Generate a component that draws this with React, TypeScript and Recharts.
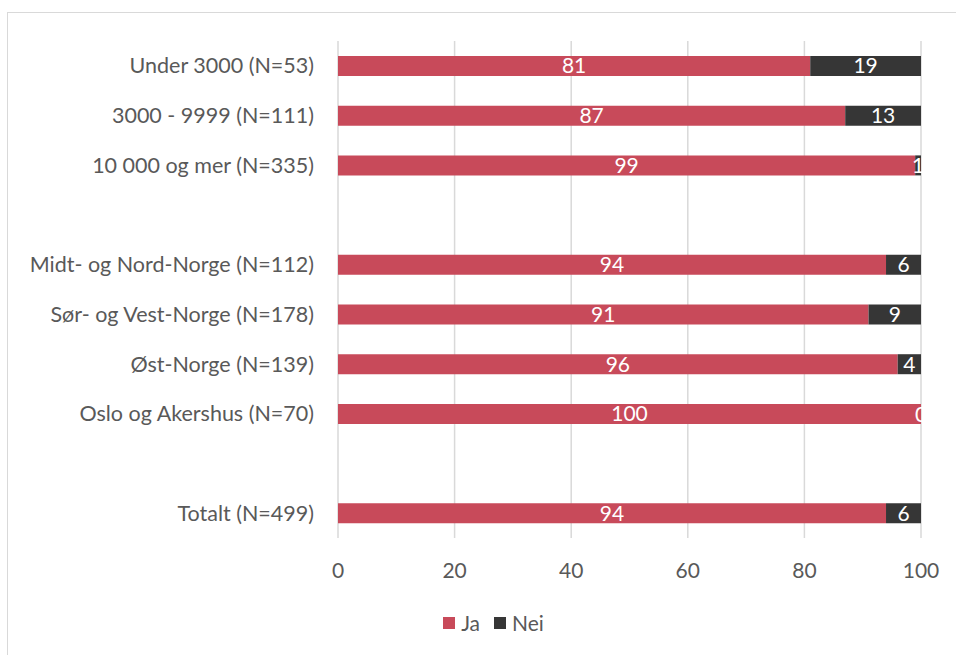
import { BarChart, Bar, XAxis, YAxis, CartesianGrid, Legend, LabelList } from "recharts";

// kategorier (tomme rader gir mellomrom mellom gruppene)
const categories = [
  "Under 3000 (N=53)",
  "3000 - 9999 (N=111)",
  "10 000 og mer (N=335)",
  "",
  "Midt- og Nord-Norge (N=112)",
  "Sør- og Vest-Norge (N=178)",
  "Øst-Norge (N=139)",
  "Oslo og Akershus (N=70)",
  "",
  "Totalt (N=499)",
];
const ja = [81, 87, 99, null, 94, 91, 96, 100, null, 94];
const nei = [19, 13, 1, null, 6, 9, 4, 0, null, 6];
const xTicks = [0, 20, 40, 60, 80, 100];

const RED = "#C84A5A";
const DARK = "#363636";
const TEXT = "#595959";
const FONT = "Lato, 'Open Sans', sans-serif";
const FS = 21;
const YFS = 21.5;

const data = categories.map((name, i) => ({
  id: `r${i}`,
  name,
  ja: ja[i],
  nei: nei[i],
}));

const LegendContent = () => (
  <div style={{ display: "flex", justifyContent: "center", alignItems: "center", fontFamily: FONT, fontSize: FS, color: TEXT, paddingLeft: 66 }}>
    <span style={{ width: 12, height: 12, background: RED, display: "inline-block", marginRight: 6 }} />
    <span style={{ marginRight: 14 }}>Ja</span>
    <span style={{ width: 12, height: 12, background: DARK, display: "inline-block", marginRight: 6 }} />
    <span>Nei</span>
  </div>
);

const fmt = (v: any) => (v === null || v === undefined ? "" : String(v));

// Nei-verdien 0 har ingen synlig stolpe, så etiketten tegnes ved enden av Ja-stolpen
const ZeroNeiLabel = (props: any) => {
  const { x, y, width, height, value } = props;
  if (value !== 0) return null;
  return (
    <text
      x={x + width}
      y={y + height / 2}
      textAnchor="middle"
      dominantBaseline="central"
      fill="#fff"
      fontSize={FS}
      fontFamily={FONT}
    >
      {value}
    </text>
  );
};

export default function App() {
  return (
    <div style={{ position: "relative", width: 956, height: 655, overflow: "hidden", background: "#fff" }}>
      <style>{"body{margin:0;overflow:hidden}"}</style>
      <div
        style={{
          position: "absolute",
          left: 7,
          top: 12,
          width: 1000,
          height: 700,
          border: "1px solid #d9d9d9",
        }}
      />
      <div style={{ position: "absolute", left: 0, top: 0 }}>
        <BarChart
          width={956}
          height={655}
          data={data}
          layout="vertical"
          margin={{ top: 41, right: 35, left: 0, bottom: 20 }}
          barCategoryGap={0}
        >
          <CartesianGrid horizontal={false} stroke="#d9d9d9" strokeWidth={1.5} />
          <XAxis
            type="number"
            domain={[0, 100]}
            ticks={xTicks}
            axisLine={false}
            tickLine={false}
            tickMargin={19}
            height={72}
            tick={{ fill: TEXT, fontSize: FS, fontFamily: FONT }}
            interval={0}
          />
          <YAxis
            type="category"
            dataKey="id"
            width={338}
            axisLine={false}
            tickLine={false}
            tickMargin={18}
            interval={0}
            tickFormatter={(v: string) => categories[Number(v.slice(1))]}
            tick={{ fill: TEXT, fontSize: YFS, fontFamily: FONT }}
          />
          <Legend verticalAlign="bottom" content={<LegendContent />} />
          <Bar dataKey="ja" name="Ja" stackId="a" fill={RED} barSize={20} isAnimationActive={false}>
            <LabelList dataKey="ja" position="center" fill="#fff" fontSize={FS} fontFamily={FONT} formatter={fmt} />
            <LabelList dataKey="nei" content={<ZeroNeiLabel />} />
          </Bar>
          <Bar dataKey="nei" name="Nei" stackId="a" fill={DARK} barSize={20} isAnimationActive={false}>
            <LabelList dataKey="nei" position="center" fill="#fff" fontSize={FS} fontFamily={FONT} formatter={fmt} />
          </Bar>
        </BarChart>
      </div>
    </div>
  );
}
